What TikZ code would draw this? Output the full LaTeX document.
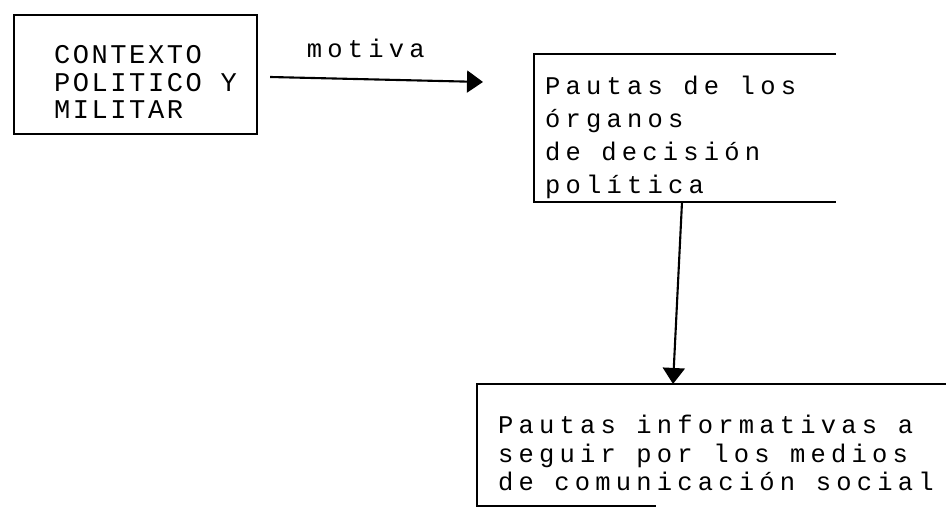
\documentclass[tikz,border=0pt]{standalone}
\usepackage{fontspec}
\newfontfamily\typefont{Liberation Mono}[LetterSpace=20.5]
\newfontfamily\capsfont{Liberation Mono}[LetterSpace=9.5]
\usepackage{tikz}
\usetikzlibrary{arrows.meta,positioning}

\begin{document}
\begin{tikzpicture}[
  x=0.02cm, y=-0.02cm,
  line width=1.2pt,
  nudge/.style n args={3}{execute at begin node={\spaceskip=#3\leftskip=#1\rule{0pt}{#2}}},
  cause/.style={draw, minimum width=4.86cm, minimum height=2.38cm, text width=4.4cm, align=left, inner sep=0pt, font={\fontsize{15.4}{15.6}\capsfont}},
  note/.style={minimum height=#1, inner ysep=0pt, align=left, font={\fontsize{14.5}{18.8}\typefont}},
  arr/.style={-{Triangle[length=0.32cm,width=0.44cm]}}
]
\useasboundingbox (0,0) rectangle (946,509);
\node[cause, nudge={0.57cm}{19.2pt}{10.7pt}] (ctx) at (135.5,74.5) {CONTEXTO\\POLITICO Y\\MILITAR};
\node[note=2.92cm, minimum width=6cm, text width=5.6cm, inner xsep=0.2cm, nudge={0pt}{21.5pt}{11.7pt}] (pd) at (685,128) {Pautas de los\\órganos\\de decisión\\política};
\node[note=2.4cm, minimum width=9.36cm, text width=8.9cm, inner xsep=0pt, font={\fontsize{14.5}{16.2}\typefont}, nudge={0.17cm}{20pt}{11.7pt}] (pi) at (712,445) {Pautas informativas a\\seguir por los medios\\de comunicación social};
\coordinate (mtip) at (483,82);
% open frames of the two right boxes
\draw (pd.north east) -- (pd.north west) -- (pd.south west) -- (pd.south east);
\draw ([xshift=3.58cm]pi.south west) -- (pi.south west) -- (pi.north west) -- (pi.north east);
\draw[arr] ([xshift=0.24cm,yshift=-0.05cm]ctx.east) -- (mtip)
  node[pos=0.45, above=0.3cm, font={\fontsize{14.5}{16}\typefont}] (mot) {motiva};
\draw[arr] ([xshift=-0.06cm]pd.south) -- ([xshift=-0.78cm]pi.north);
\end{tikzpicture}
\end{document}
